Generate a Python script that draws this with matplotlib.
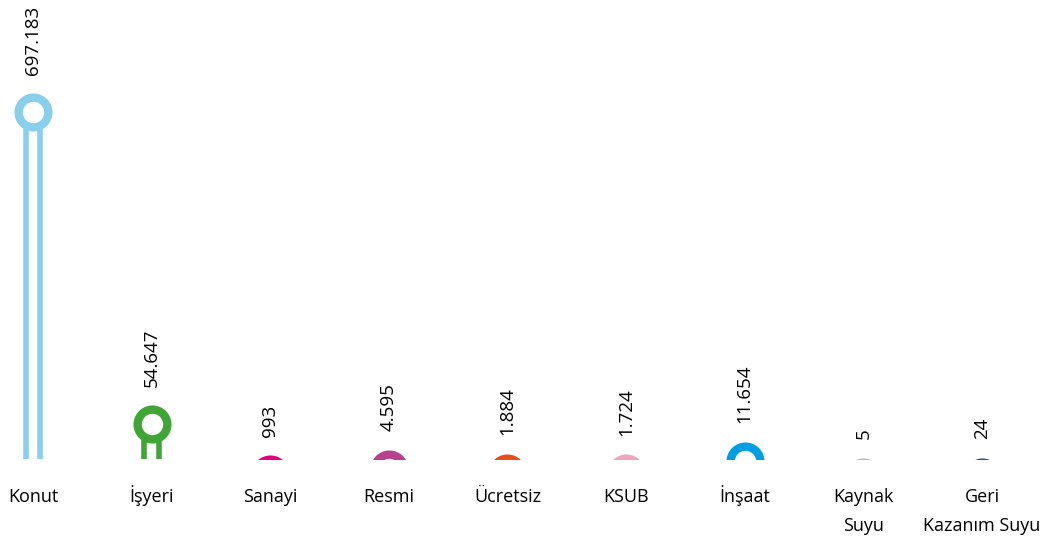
import matplotlib.pyplot as plt
import numpy as np

plt.rcParams['font.family'] = ['Open Sans', 'DejaVu Sans']

categories = ['Konut', 'İşyeri', 'Sanayi', 'Resmi', 'Ücretsiz', 'KSUB', 'İnşaat',
              'Kaynak\nSuyu', 'Geri\nKazanım Suyu']
values = [697183, 54647, 993, 4595, 1884, 1724, 11654, 5, 24]
colors = ['#88CFEC', '#3FA535', '#E6007E', '#B5418F', '#E84E1C', '#F2A3BF',
          '#009FE3', '#A9BCD0', '#24527A']

# compressed value axis (small values still peek above the baseline)
P = 0.76
def fwd(v):
    v = np.asarray(v, dtype=float)
    return np.sign(v) * np.abs(v) ** P
def inv(u):
    u = np.asarray(u, dtype=float)
    return np.sign(u) * np.abs(u) ** (1 / P)

fig = plt.figure(figsize=(10.46, 5.39), dpi=100)
ax = fig.add_axes([0, 80 / 539, 1, 459 / 539])
ax.set_yscale('function', functions=(fwd, inv))

# pixel layout: zero sits 18 px below the baseline, top value 365 px above zero
px_per_u = 365 / fwd(max(values))
ax.set_ylim(inv(18 / px_per_u), inv((459 + 18) / px_per_u))
ax.set_xlim(-0.278, 8.54)

x = np.arange(len(categories))
dx = 7.4 / 118.6
for xi, v, c in zip(x, values, colors):
    ax.vlines([xi - dx, xi + dx], 0, v, color=c, lw=4.0, zorder=2)
    ax.plot(xi, v, 'o', ms=21.4, mfc='white', mec=c, mew=6.0, zorder=3)
    ax.annotate(f'{v:,}'.replace(',', '.'), xy=(xi, v), xytext=(0, 27),
                textcoords='offset points', rotation=90, ha='center', va='bottom',
                fontsize=13.5, color='black', annotation_clip=False)

# category labels under the baseline, one line at a time
for xi, lab in zip(x, categories):
    for k, line in enumerate(lab.split('\n')):
        ax.annotate(line, xy=(xi, 0), xycoords=('data', 'axes fraction'),
                    xytext=(0, -31 - k * 20.5), textcoords='offset points',
                    ha='center', va='baseline', fontsize=13, color='black',
                    annotation_clip=False)

ax.set_xticks([])
ax.set_yticks([])
ax.minorticks_off()
ax.tick_params(axis='y', which='both', left=False, labelleft=False)
for s in ax.spines.values():
    s.set_visible(False)

fig.savefig('out.png', dpi=100)
